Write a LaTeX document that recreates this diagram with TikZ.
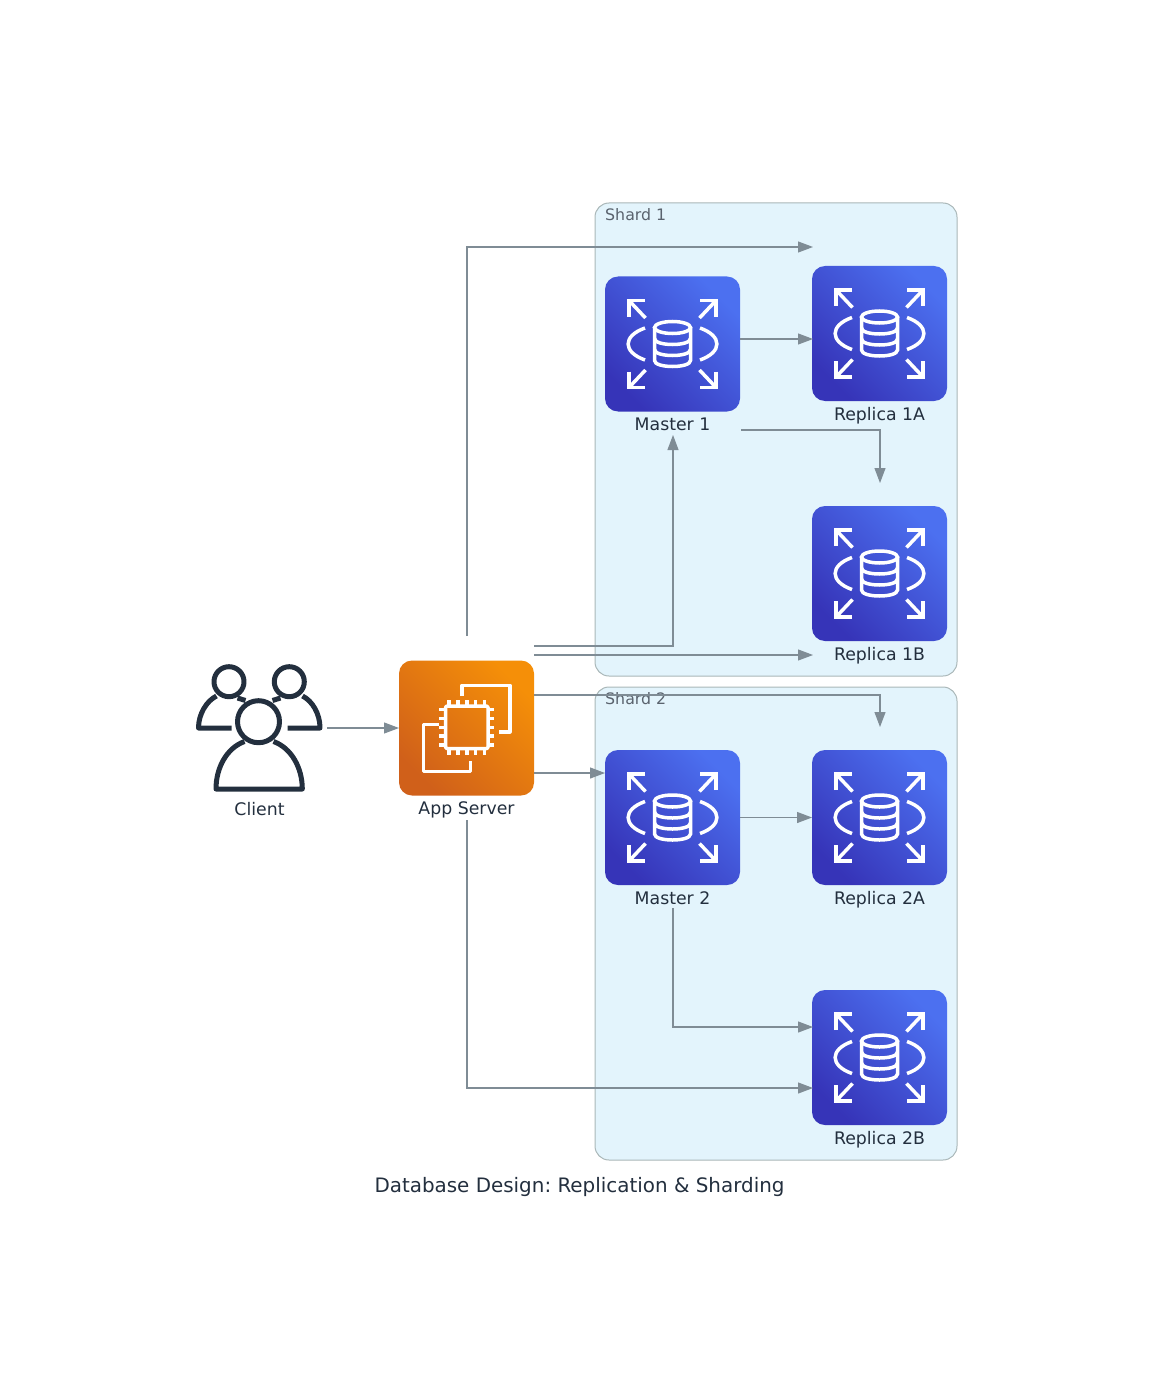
\documentclass[tikz,border=0pt]{standalone}
\usepackage{fontspec}
\setmainfont{DejaVu Sans}
\usetikzlibrary{arrows.meta,positioning}
\definecolor{edgegray}{HTML}{7F8C95}
\definecolor{inkdark}{HTML}{232F3E}
\definecolor{shardfill}{HTML}{E3F4FC}
\definecolor{shardline}{HTML}{AAB7B8}
\definecolor{rdsdark}{HTML}{3634B8}
\definecolor{rdslight}{HTML}{4C70F0}
\definecolor{ecdark}{HTML}{D0601A}
\definecolor{eclight}{HTML}{F58F08}
\tikzset{
	shardbox/.style={rectangle, draw=shardline, fill=shardfill, rounded corners=14pt, line width=1pt,
		minimum width=362pt, minimum height=473pt, inner sep=0pt, outer sep=0pt},
	shardtext/.style={anchor=west, inner sep=0pt, font=\fontsize{15.8}{18}\selectfont, text=inkdark!75},
	iconbox/.style={rectangle, rounded corners=13pt, minimum size=135pt, inner sep=0pt, outer sep=0pt},
	rdsnode/.style={iconbox, bottom color=rdsdark, top color=rdslight, shading angle=-45},
	ecnode/.style={iconbox, bottom color=ecdark, top color=eclight, shading angle=-45},
	usernode/.style={iconbox},
	iconlabel/.style={label distance=3pt, font=\fontsize{17.3}{20}\selectfont, text=inkdark},
	flowarr/.style={-{Triangle[length=15pt,width=11pt]}, draw=edgegray, line width=1.1pt},
	rdsicon/.pic={
		\begin{scope}[draw=white, line width=3.5pt, line join=miter]
			\foreach \sx/\sy in {-1/-1,1/-1,-1/1,1/1}{
				\draw (\sx*43.5,\sy*27.5) -- (\sx*43.5,\sy*43.5) -- (\sx*27.5,\sy*43.5);
				\draw (\sx*43.5,\sy*43.5) -- (\sx*27,\sy*26);
			}
			\draw (-27.5,-16) .. controls (-50,-8) and (-50,8) .. (-27.5,16);
			\draw (27.5,-16) .. controls (50,-8) and (50,8) .. (27.5,16);
			\draw (0,-16.5) ellipse [x radius=18, y radius=6];
			\draw (-18,-16.5) -- (-18,16.5) .. controls (-18,24.5) and (18,24.5) .. (18,16.5) -- (18,-16.5);
			\draw (-18,-5.5) .. controls (-18,2.5) and (18,2.5) .. (18,-5.5);
			\draw (-18,5.5) .. controls (-18,13.5) and (18,13.5) .. (18,5.5);
		\end{scope}
	},
	ecicon/.pic={
		\begin{scope}[draw=white, line width=3.5pt, line join=round]
			\draw (-4.3,-32) -- (-4.3,-42.7) -- (43.3,-42.7) -- (43.3,4) -- (32.7,4);
			\draw (-27.7,-3.7) -- (-43,-3.7) -- (-43,43.3) -- (4,43.3) -- (4,33);
			\draw[rounded corners=2pt] (-21,-22) rectangle (21.6,20.6);
			\foreach \k in {-2,-1,0,1,2}{
				\draw (\k*8.8+0.3,-22) -- (\k*8.8+0.3,-28.3);
				\draw (\k*8.8+0.3,20.6) -- (\k*8.8+0.3,26.9);
				\draw (-21,\k*8.8-0.7) -- (-27.3,\k*8.8-0.7);
				\draw (21.6,\k*8.8-0.7) -- (27.9,\k*8.8-0.7);
			}
		\end{scope}
	},
	usericon/.pic={
		\begin{scope}[draw=inkdark, line width=5pt, line join=round]
			\draw (-1,-6.3) circle [radius=21];
			\draw (-15,13.5) .. controls (-33,20) and (-43.5,40) .. (-43.5,61) -- (42.8,61) .. controls (42.8,40) and (32,20) .. (14,13.5);
			\draw (-30.5,-46.3) circle [radius=15];
			\draw (29.8,-46.3) circle [radius=15];
			\draw (-28,0) -- (-61,0) .. controls (-61,-14) and (-53,-27) .. (-43,-32);
			\draw (-22,-30) -- (-14,-27.5);
			\draw (28,0) -- (60.5,0) .. controls (60.5,-14) and (53,-27) .. (43,-32);
			\draw (21,-30) -- (13,-27.5);
		\end{scope}
	}
}

\begin{document}
\frenchspacing
\begin{tikzpicture}[x=1pt, y=-1pt, node distance=105pt and 72pt]
	\useasboundingbox (0,0) rectangle (1160,1396);
	% clusters
	\node[shardbox] (shard1) at (776,439.5) {};
	\node[shardbox] (shard2) at (776,923.5) {};
	\node[shardtext] (shard1text) at (605,215) {Shard 1};
	\node[shardtext] (shard2text) at (605,699) {Shard 2};
	% services
	\node[usernode, label={[iconlabel]below:Client}] (client) at (259.5,728) {};
	\node[ecnode, right=72pt of client, label={[iconlabel]below:App Server}] (app) {};
	\node[rdsnode, label={[iconlabel]below:Master 1}] (master1) at (672.5,344) {};
	\node[rdsnode, right=72pt of master1, yshift=10.5pt, label={[iconlabel]below:Replica 1A}] (replica1a) {};
	\node[rdsnode, below=105pt of replica1a, label={[iconlabel]below:Replica 1B}] (replica1b) {};
	\node[rdsnode, label={[iconlabel]below:Master 2}] (master2) at (672.5,817.5) {};
	\node[rdsnode, right=72pt of master2, label={[iconlabel]below:Replica 2A}] (replica2a) {};
	\node[rdsnode, below=105pt of replica2a, label={[iconlabel]below:Replica 2B}] (replica2b) {};
	\pic at (client) {usericon};
	\pic at (app) {ecicon};
	\foreach \n in {master1,replica1a,replica1b,master2,replica2a,replica2b}
		\pic at (\n) {rdsicon};
	\node[font=\fontsize{19.9}{24}\selectfont, text=inkdark] (title) at (579.5,1186.5) {Database Design: Replication \& Sharding};
	% free ends of the edges
	\coordinate (appup) at (467,636);
	\coordinate (appdown) at (467,820);
	\coordinate (appa) at (534,646);
	\coordinate (appb) at (534,655);
	\coordinate (appc) at (534,695);
	\coordinate (appd) at (534,773);
	\coordinate (m1right) at (740,339);
	\coordinate (m1low) at (741,430);
	\coordinate (m1foot) at (673,435);
	\coordinate (m2foot) at (673,908);
	\coordinate (r1atop) at (813,247);
	\coordinate (r1aside) at (813,339);
	\coordinate (r1bfoot) at (813,655);
	\coordinate (r1btop) at (880,483);
	\coordinate (r2atop) at (880,727);
	\coordinate (r2blow) at (813,1088);
	\coordinate (r2bup) at (813,1027);
	% edges
	\draw[flowarr] (client)--(app);
	\draw[flowarr] (appup)|-(r1atop);
	\draw[flowarr] (appa)-|(m1foot);
	\draw[flowarr] (appb)--(r1bfoot);
	\draw[flowarr] (appc)-|(r2atop);
	\draw[flowarr] (appd)--(appd-|master2.west);
	\draw[flowarr] (appdown)|-(r2blow);
	\draw[flowarr] (m1right)--(r1aside);
	\draw[flowarr] (m1low)-|(r1btop);
	\draw[flowarr] (master2)--(replica2a);
	\draw[flowarr] (m2foot)|-(r2bup);
\end{tikzpicture}
\end{document}
